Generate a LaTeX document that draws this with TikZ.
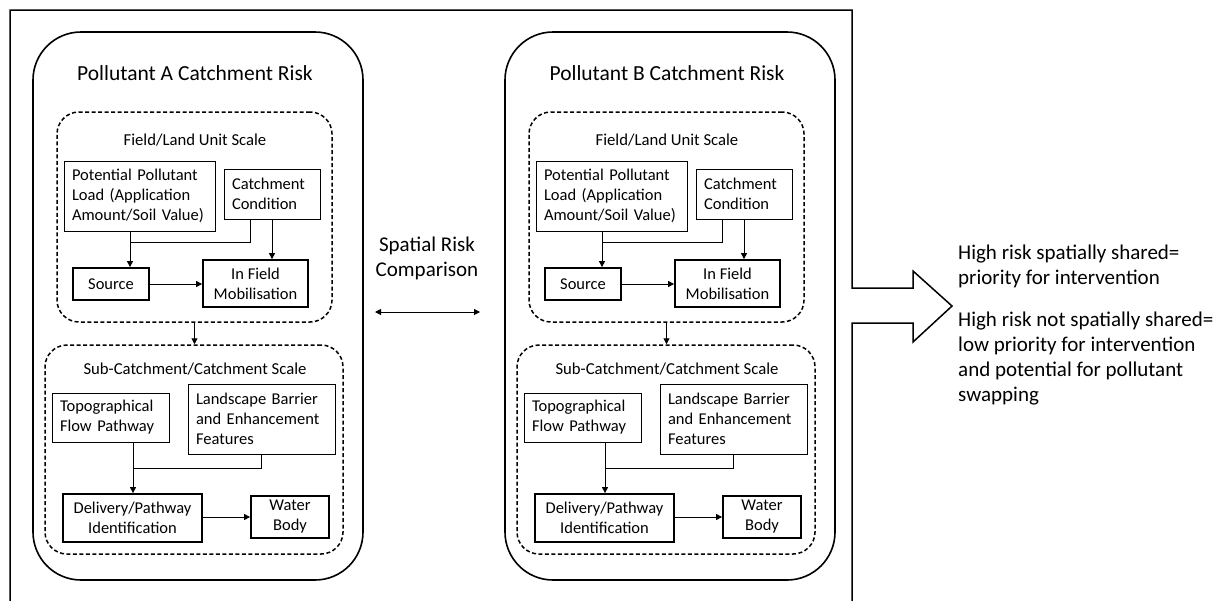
\documentclass[tikz,border=0pt]{standalone}
\usepackage{fontspec}
\setmainfont{Carlito}
\usetikzlibrary{arrows.meta,calc}
\tikzset{
 thinbox/.style={draw, line width=1pt, inner xsep=8pt, inner ysep=2pt, align=left, font=\fontsize{16.5}{20}\selectfont},
 thickbox/.style={draw, line width=1.8pt, inner sep=2pt, align=center, font=\fontsize{16.5}{20}\selectfont},
 dashbox/.style={draw, line width=1.5pt, dash pattern=on 4pt off 2.5pt, rounded corners=22pt},
 panelbox/.style={draw, line width=1.6pt, rounded corners=48pt},
 conn/.style={line width=1pt},
 arr/.style={line width=1pt, -{Triangle[length=6pt,width=6pt]}},
 darr/.style={line width=1pt, {Triangle[length=6pt,width=6pt]}-{Triangle[length=6pt,width=6pt]}},
 scalelbl/.style={font=\fontsize{16.7}{20}\selectfont},
 titlelbl/.style={font=\fontsize{21.5}{26}\selectfont},
 bigtxt/.style={font=\fontsize{21}{25}\selectfont, align=left, inner sep=0pt},
}
\newcommand\drawpanel[3]{%
\begin{scope}[xshift=#1pt]
\node[panelbox, minimum width=330pt, minimum height=548pt] (panel#2) at (198,306) {};
\node[titlelbl] (title#2) at (195,73) {Pollutant #3 Catchment Risk};
\node[dashbox, minimum width=275pt, minimum height=210pt] (field#2) at (194.5,217) {};
\node[scalelbl] (fieldlbl#2) at (195,140) {Field/Land Unit Scale};
\node[thinbox, text width=135pt, minimum height=70pt] (pot#2) at (139.5,196) {Potential Pollutant\\Load (Application\\Amount/Soil Value)};
\node[thinbox, text width=80pt, minimum height=50pt] (cc#2) at (272,194) {Catchment\\Condition};
\node[thickbox, minimum width=76pt, minimum height=32pt] (src#2) at (111,284) {Source};
\node[thickbox, minimum width=105pt, minimum height=47pt] (inf#2) at (255.5,283.5) {In Field\\Mobilisation};
\coordinate (jA#2) at (130,242);
\draw[arr] (jA#2 |- pot#2.south) -- (jA#2 |- src#2.north);
\draw[conn] ([xshift=-22pt]cc#2.south) |- (jA#2);
\draw[arr] (cc#2.south) -- (cc#2.south |- inf#2.north);
\draw[arr] (src#2.east) -- (src#2.east -| inf#2.west);
\node[dashbox, minimum width=298pt, minimum height=209pt] (sub#2) at (194,449.5) {};
\node[scalelbl] (sublbl#2) at (195,369) {Sub-Catchment/Catchment Scale};
\draw[arr] (field#2.south) -- (field#2.south |- sub#2.north);
\node[thinbox, text width=101pt, minimum height=49pt] (topo#2) at (110.5,417.5) {Topographical\\Flow Pathway};
\node[thinbox, text width=131pt, minimum height=70pt] (ls#2) at (261.5,419) {Landscape Barrier\\and Enhancement\\Features};
\node[thickbox, minimum width=139pt, minimum height=48pt] (dlv#2) at (132.5,518) {Delivery/Pathway\\Identification};
\node[thickbox, minimum width=78pt, minimum height=42pt] (wb#2) at (290,517) {Water\\Body};
\coordinate (jB#2) at (133,468);
\draw[arr] (jB#2 |- topo#2.south) -- (jB#2 |- dlv#2.north);
\draw[conn] (ls#2.south) |- (jB#2);
\draw[arr] (dlv#2.east |- wb#2.west) -- (wb#2.west);
\end{scope}}
\begin{document}
\begin{tikzpicture}[x=1pt,y=-1pt]
\useasboundingbox (0,0) rectangle (1230,600);
\clip (0,0) rectangle (1230,600);
\fill[white] (0,0) rectangle (1230,600);
\draw[line width=1.5pt] (10,615) -- (10,10) -- (852,10) -- (852,288) -- (913,288) -- (913,271) -- (952,306) -- (913,342) -- (913,323) -- (852,323) -- (852,615);
\drawpanel{0}{A}{A}
\drawpanel{472}{B}{B}
\node[font=\fontsize{21}{25}\selectfont, align=center] (cmp) at (427,258) {Spatial Risk\\Comparison};
\coordinate (cmpL) at (375,312);
\coordinate (cmpR) at (480,312);
\draw[darr] (cmpL) -- (cmpR);
\node[bigtxt, anchor=north west] (res1) at (958,244.5) {High risk spatially shared=\\priority for intervention};
\node[bigtxt, anchor=north west] (res2) at (958,311.5) {High risk not spatially shared=\\low priority for intervention\\and potential for pollutant\\swapping};
\end{tikzpicture}
\end{document}
